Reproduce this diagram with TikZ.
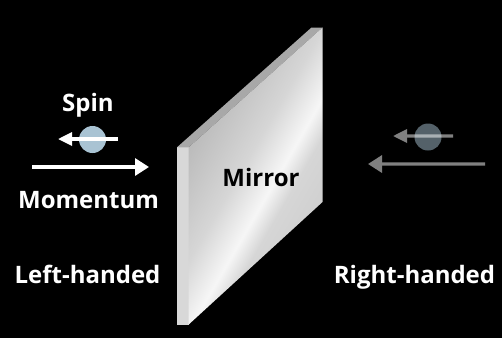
\documentclass[tikz,border=0pt]{standalone}
\usepackage{fontspec}
\setmainfont{Open Sans}
\usetikzlibrary{arrows.meta}

\definecolor{mirA}{HTML}{B9B9B9}
\definecolor{mirB}{HTML}{D6D6D6}
\definecolor{mirC}{HTML}{F6F6F6}
\definecolor{stripcol}{HTML}{D8D8D8}
\definecolor{topcol}{HTML}{A8A8A8}
\definecolor{ballcol}{HTML}{A9C3D3}

\pgfdeclarehorizontalshading{mirrorface}{100bp}{%
  color(0bp)=(mirA); color(30bp)=(mirA); color(46bp)=(mirB);
  color(55bp)=(mirC); color(60bp)=(mirB); color(100bp)=(mirA)}

\tikzset{
  lbl/.style={text=white, font=\fontsize{24}{29}\selectfont\bfseries,
    inner sep=0pt, anchor=base},
  ball/.style={circle, fill=ballcol, minimum size=27pt, inner sep=0pt},
  spinarrow/.style={draw=white, line width=3.2pt,
    -{Triangle[length=14pt,width=13pt]}},
  momarrow/.style={draw=white, line width=3.2pt,
    -{Triangle[length=14pt,width=17pt]}},
  faded/.style={opacity=.5},
}

\begin{document}
\begin{tikzpicture}[x=1pt,y=-1pt]
\fill[black] (0,0) rectangle (502,338);
\useasboundingbox (0,0) rectangle (502,338);

% mirror slab: side strip, top edge, front face
\coordinate (sTL) at (177,147.3);
\coordinate (sBL) at (177,324.5);
\coordinate (fTL) at (188.7,147.3);
\coordinate (fBL) at (188.7,324.5);
\coordinate (fTR) at (322.5,27.5);
\coordinate (fBR) at (322.5,202);
\coordinate (tTR) at (311.5,27.5);
\fill[stripcol] (sTL) -- (fTL) -- (fBL) -- (sBL) -- cycle;
\fill[topcol] (sTL) -- (tTR) -- (fTR) -- (fTL) -- cycle;
\shade[shading=mirrorface, shading angle=-30] (fTL) -- (fTR) -- (fBR) -- (fBL) -- cycle;
\node[lbl, text=black] (mirror) at (261,186) {Mirror};

% left-handed particle
\node[lbl] (spinL) at (88,111) {Spin};
\node[ball] (ballL) at (92.5,139.5) {};
\coordinate (spinLtail) at (118,139);
\coordinate (spinLtip) at (58,139);
\draw[spinarrow] (spinLtail) -- (spinLtip);
\coordinate (momLtail) at (32,167);
\coordinate (momLtip) at (149,167);
\draw[momarrow] (momLtail) -- (momLtip);
\node[lbl] (momL) at (88.5,208) {Momentum};
\node[lbl] (handL) at (87.5,283) {Left-handed};

% right-handed particle, seen dimmed
\node[ball, faded] (ballR) at (428,137) {};
\coordinate (spinRtail) at (453,136);
\coordinate (spinRtip) at (393,136);
\begin{scope}[transparency group, faded]
  \draw[spinarrow] (spinRtail) -- (spinRtip);
\end{scope}
\coordinate (momRtail) at (485,164);
\coordinate (momRtip) at (368,164);
\begin{scope}[transparency group, faded]
  \draw[momarrow] (momRtail) -- (momRtip);
\end{scope}
\node[lbl] (handR) at (414.5,283) {Right-handed};
\end{tikzpicture}
\end{document}
